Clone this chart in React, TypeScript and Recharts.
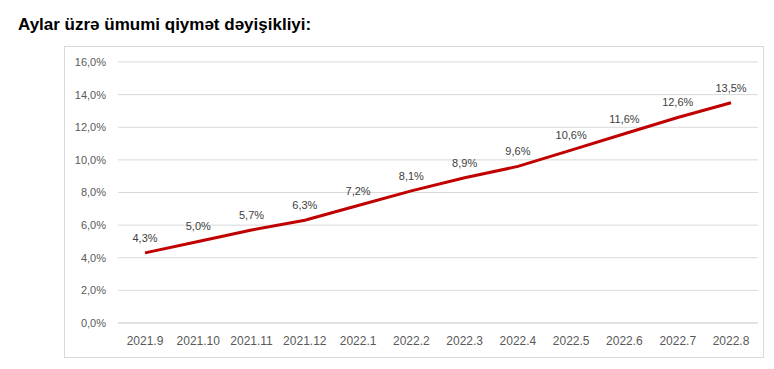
import React from "react";
import { LineChart, Line, XAxis, YAxis, CartesianGrid, LabelList } from "recharts";

const months = ["2021.9", "2021.10", "2021.11", "2021.12", "2022.1", "2022.2", "2022.3", "2022.4", "2022.5", "2022.6", "2022.7", "2022.8"];
const values = [4.3, 5.0, 5.7, 6.3, 7.2, 8.1, 8.9, 9.6, 10.6, 11.6, 12.6, 13.5];
const yTicks = [0, 2, 4, 6, 8, 10, 12, 14, 16];
const title = "Aylar üzrə ümumi qiymət dəyişikliyi:";

const data = months.map((m, i) => ({ month: m, value: values[i] }));
const fmt = (v: number) => v.toFixed(1).replace(".", ",") + "%";
const FONT = "'Liberation Sans', Arial, sans-serif";

export default function App() {
  return (
    <div style={{ position: "absolute", left: 0, top: 0, width: 774, height: 369, background: "#fff", fontFamily: FONT }}>
      <div style={{ position: "absolute", left: 18, top: 15, fontSize: 17, fontWeight: "bold", color: "#000", whiteSpace: "nowrap" }}>
        {title}
      </div>
      <div style={{ position: "absolute", left: 64, top: 46, width: 698, height: 310, border: "1px solid #d9d9d9" }} />
      <div style={{ position: "absolute", left: 0, top: 0 }}>
        <LineChart width={774} height={369} data={data} margin={{ top: 62, right: 16, bottom: 16, left: 58 }}>
          <CartesianGrid vertical={false} stroke="#d9d9d9" />
          <XAxis
            dataKey="month"
            axisLine={{ stroke: "#d9d9d9" }}
            tickLine={false}
            height={30}
            tickSize={6}
            tickMargin={7}
            interval={0}
            padding={{ left: 27, right: 27 }}
            tick={{ fill: "#595959", fontSize: 12, fontFamily: FONT }}
          />
          <YAxis
            domain={[0, 16]}
            ticks={yTicks}
            width={60}
            axisLine={false}
            tickLine={false}
            tickSize={6}
            tickMargin={6}
            tickFormatter={(v: number) => fmt(v)}
            tick={{ fill: "#595959", fontSize: 11, fontFamily: FONT }}
          />
          <Line
            type="linear"
            dataKey="value"
            stroke="#C00000"
            strokeWidth={3}
            dot={false}
            isAnimationActive={false}
          >
            <LabelList
              dataKey="value"
              position="top"
              offset={11}
              formatter={(v: number) => fmt(v)}
              style={{ fill: "#404040", fontSize: 11, fontFamily: FONT }}
            />
          </Line>
        </LineChart>
      </div>
    </div>
  );
}
